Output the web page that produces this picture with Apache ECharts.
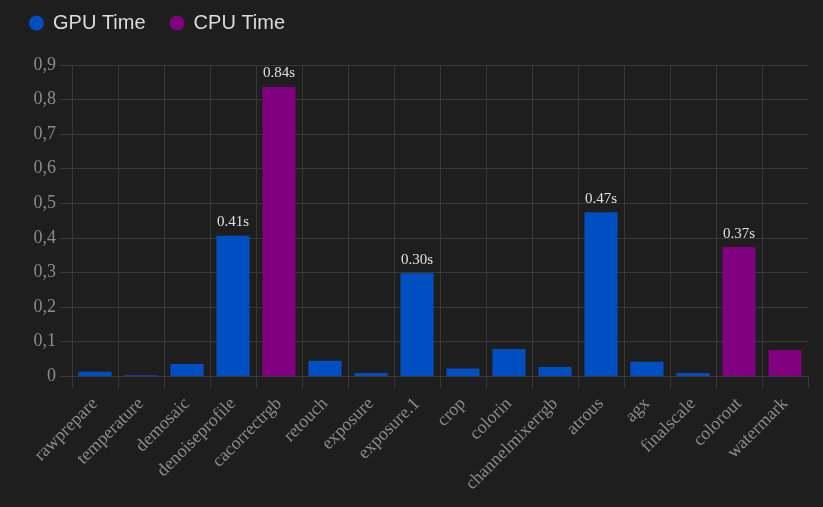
<!DOCTYPE html>
<html>
<head>
<meta charset="utf-8">
<script src="https://cdn.jsdelivr.net/npm/echarts@6/dist/echarts.min.js"></script>
<style>
html,body{margin:0;padding:0;background:#1e1e1e;}
#chart{width:823px;height:507px;}
</style>
</head>
<body>
<div id="chart"></div>
<script>
const categories = ['rawprepare','temperature','demosaic','denoiseprofile','cacorrectrgb','retouch','exposure','exposure.1','crop','colorin','channelmixerrgb','atrous','agx','finalscale','colorout','watermark'];
const gpuTimes = [0.012, 0.002, 0.035, 0.406, null, 0.044, 0.009, 0.297, 0.022, 0.078, 0.026, 0.474, 0.041, 0.009, null, null];
const cpuTimes = [null, null, null, null, 0.837, null, null, null, null, null, null, null, null, null, 0.373, 0.075];
const yTicks = { min: 0, max: 0.9, interval: 0.1 };
const labelThreshold = 0.1;

const gridColor = '#383838';
const axisTextColor = '#8c8c8c';
const serif = '"Liberation Serif", "Times New Roman", serif';

function barLabel(p) {
  return (p.value != null && p.value > labelThreshold) ? p.value.toFixed(2) + 's' : '';
}

const chart = echarts.init(document.getElementById('chart'));
chart.setOption({
  backgroundColor: '#1e1e1e',
  animation: false,
  legend: {
    left: 29, top: 13, padding: 0,
    icon: 'circle', itemWidth: 15, itemHeight: 15, itemGap: 24,
    textStyle: { color: '#dcdcdc', fontSize: 20, fontFamily: '"Liberation Sans", Arial, sans-serif', padding: [0, 0, 0, 4] },
    data: ['GPU Time', 'CPU Time']
  },
  grid: { left: 72, right: 15, top: 65, bottom: 131, containLabel: false, outerBoundsMode: 'none' },
  xAxis: {
    type: 'category',
    data: categories,
    boundaryGap: true,
    axisLine: { show: true, lineStyle: { color: gridColor, width: 1 } },
    axisTick: { show: true, length: 12, interval: 0, lineStyle: { color: gridColor } },
    splitLine: { show: true, interval: 0, showMaxLine: false, lineStyle: { color: gridColor, width: 1 } },
    axisLabel: { interval: 0, rotate: 45, margin: 25, color: axisTextColor, fontSize: 18, fontFamily: serif }
  },
  yAxis: {
    type: 'value',
    min: yTicks.min, max: yTicks.max, interval: yTicks.interval,
    axisLine: { show: false },
    axisTick: { show: true, length: 12, lineStyle: { color: gridColor } },
    splitLine: { show: true, lineStyle: { color: gridColor, width: 1 } },
    axisLabel: {
      margin: 16, color: axisTextColor, fontSize: 18, fontFamily: serif,
      formatter: v => (Math.round(v * 10) / 10).toString().replace('.', ',')
    }
  },
  series: [
    {
      name: 'GPU Time', type: 'bar', data: gpuTimes,
      barWidth: '72%', barGap: '-100%',
      itemStyle: { color: '#004fc2' },
      label: { show: true, position: 'top', distance: 6, color: '#e0e0e0', fontSize: 15, fontFamily: serif, formatter: barLabel }
    },
    {
      name: 'CPU Time', type: 'bar', data: cpuTimes,
      barWidth: '72%', barGap: '-100%',
      itemStyle: { color: '#800080' },
      label: { show: true, position: 'top', distance: 6, color: '#e0e0e0', fontSize: 15, fontFamily: serif, formatter: barLabel }
    }
  ]
});
</script>
</body>
</html>
